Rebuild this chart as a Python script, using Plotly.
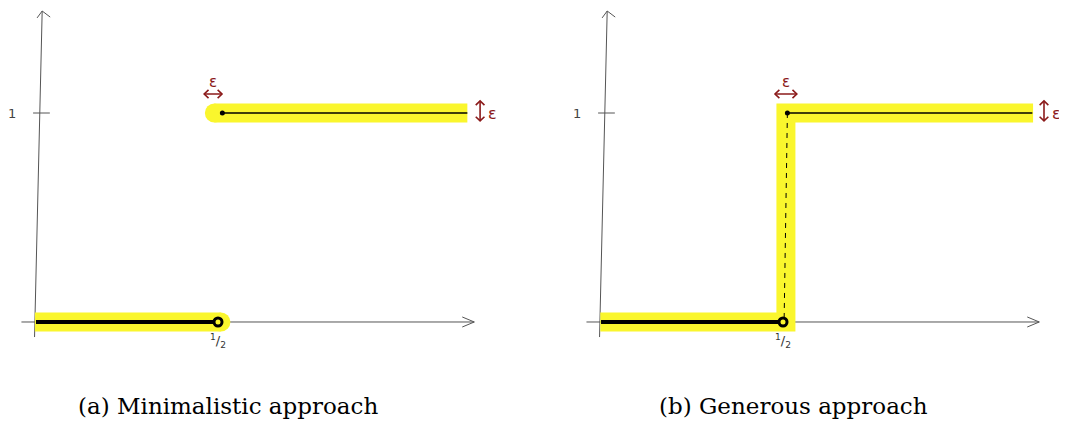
import plotly.graph_objects as go
from plotly.subplots import make_subplots

# hand sketch of the step function f(x) = 0 for x < 1/2, 1 for x >= 1/2
step_x = 0.5
low_x = [0.0, 0.49]
low_y = [0, 0]
high_x = [0.512, 1.185]
high_y = [1, 1]

# tolerance bands (yellow highlighter)
band_a_low_x = [-0.003, 0.508]
band_a_low_y = [0, 0]
band_a_high_x = [0.49, 1.185]
band_a_high_y = [1.0, 1.0]
band_b_x = [-0.002, 0.508, 0.508, 1.187]
band_b_y = [0, 0, 1.0, 1.0]

# pencil axes
yaxis_line_x = [-0.004, 0.017]
yaxis_line_y = [-0.072, 1.488]
xaxis_line_x = [-0.04, 1.204]
xaxis_line_y = [0, 0]
tick_one_x = [-0.008, 0.038]

# epsilon arrows: (horizontal start, horizontal end, vertical arrow x, label x)
eps_a = [0.462, 0.511, 1.22, 0.487]
eps_b = [0.478, 0.538, 1.217, 0.508]
eps_arrow_y = 1.091
eps_vert_y = [0.962, 1.058]

captions = ["(a) Minimalistic approach", "(b) Generous approach"]
caption_x = [0.2077, 0.7413]

YELLOW = "rgb(250,246,45)"
PENCIL = "#555555"
EPS_RED = "#8b1a1a"
BAND_W = 19

# page has an 8px body margin, so the figure is a bit smaller than the window
W, H = 1059, 421

fig = make_subplots(rows=1, cols=2, horizontal_spacing=0)


def line(col, xs, ys, color, width, dash=None):
    fig.add_trace(go.Scatter(x=xs, y=ys, mode="lines",
                             line=dict(color=color, width=width, dash=dash)), row=1, col=col)


def add_pencil(col):
    line(col, yaxis_line_x, yaxis_line_y, PENCIL, 1)
    line(col, xaxis_line_x, xaxis_line_y, PENCIL, 1)
    # open arrow heads
    tx, ty = yaxis_line_x[1], yaxis_line_y[1]
    line(col, [tx - 0.014, tx, tx + 0.022], [ty - 0.033, ty, ty - 0.029], PENCIL, 1)
    ex, ey = xaxis_line_x[1], xaxis_line_y[1]
    line(col, [ex - 0.033, ex, ex - 0.033], [ey + 0.024, ey, ey - 0.024], PENCIL, 1)
    line(col, tick_one_x, [1, 1], PENCIL, 1)


def add_function(col):
    line(col, low_x, low_y, "black", 3.8)
    fig.add_trace(go.Scatter(x=[step_x], y=[0], mode="markers",
                             marker=dict(symbol="circle-open", size=8, color="black",
                                         line=dict(width=3, color="black"))), row=1, col=col)
    line(col, high_x, high_y, "black", 1.3)
    fig.add_trace(go.Scatter(x=[high_x[0]], y=[1], mode="markers",
                             marker=dict(size=5, color="black")), row=1, col=col)


def add_eps(col, eps):
    h0, h1, vx, lx = eps
    dx, dy = 0.012, 0.02
    y = eps_arrow_y
    v0, v1 = eps_vert_y
    xs = [h0, h1, None, h0 + dx, h0, h0 + dx, None, h1 - dx, h1, h1 - dx, None,
          vx, vx, None, vx - dx, vx, vx + dx, None, vx - dx, vx, vx + dx]
    ys = [y, y, None, y + dy, y, y - dy, None, y + dy, y, y - dy, None,
          v0, v1, None, v1 - dy, v1, v1 - dy, None, v0 + dy, v0, v0 + dy]
    line(col, xs, ys, EPS_RED, 1.6)
    xr = "x" if col == 1 else "x2"
    yr = "y" if col == 1 else "y2"
    fig.add_annotation(x=lx, y=1.148, xref=xr, yref=yr, text="ε", showarrow=False,
                       font=dict(size=15, color=EPS_RED, family="DejaVu Sans"))
    fig.add_annotation(x=vx + 0.035, y=1.0, xref=xr, yref=yr, text="ε", showarrow=False,
                       font=dict(size=16, color=EPS_RED, family="DejaVu Sans"))
    fig.add_annotation(x=-0.065, y=1.0, xref=xr, yref=yr, text="1", showarrow=False,
                       font=dict(size=13, color="#444", family="DejaVu Sans"))
    fig.add_annotation(x=step_x, y=-0.09, xref=xr, yref=yr, text="<sup>1</sup>/<sub>2</sub>",
                       showarrow=False, font=dict(size=13, color="#333", family="DejaVu Sans"))


# panel (a): two separate bands
add_pencil(1)
line(1, band_a_low_x, band_a_low_y, YELLOW, BAND_W)
fig.add_trace(go.Scatter(x=[band_a_low_x[1]], y=[0], mode="markers",
                         marker=dict(size=BAND_W, color=YELLOW)), row=1, col=1)
line(1, band_a_high_x, band_a_high_y, YELLOW, BAND_W)
fig.add_trace(go.Scatter(x=[band_a_high_x[0]], y=[1], mode="markers",
                         marker=dict(size=BAND_W, color=YELLOW)), row=1, col=1)
add_function(1)
add_eps(1, eps_a)

# panel (b): one connected band, dashed jump
add_pencil(2)
line(2, band_b_x, band_b_y, YELLOW, BAND_W)
line(2, [high_x[0], step_x + 0.003], [1, 0], "black", 1, dash="5px,5px")
add_function(2)
add_eps(2, eps_b)

for text, cx in zip(captions, caption_x):
    fig.add_annotation(x=cx, y=1 - 398 / H, xref="paper", yref="paper", text=text,
                       xanchor="center", yanchor="middle", showarrow=False,
                       font=dict(size=23, color="black", family="DejaVu Serif"))

fig.update_layout(
    width=W, height=H,
    margin=dict(l=0, r=0, t=0, b=0),
    showlegend=False,
    plot_bgcolor="white", paper_bgcolor="white",
)
fig.update_xaxes(visible=False, showgrid=False, zeroline=False)
fig.update_yaxes(visible=False, showgrid=False, zeroline=False, range=[-0.512, 1.5024])
fig.update_xaxes(domain=[0, 0.5], range=[-0.0769, 1.3777], row=1, col=1)
fig.update_xaxes(domain=[0.5, 1], range=[-0.1745, 1.2802], row=1, col=2)

fig.write_html("out.html")
